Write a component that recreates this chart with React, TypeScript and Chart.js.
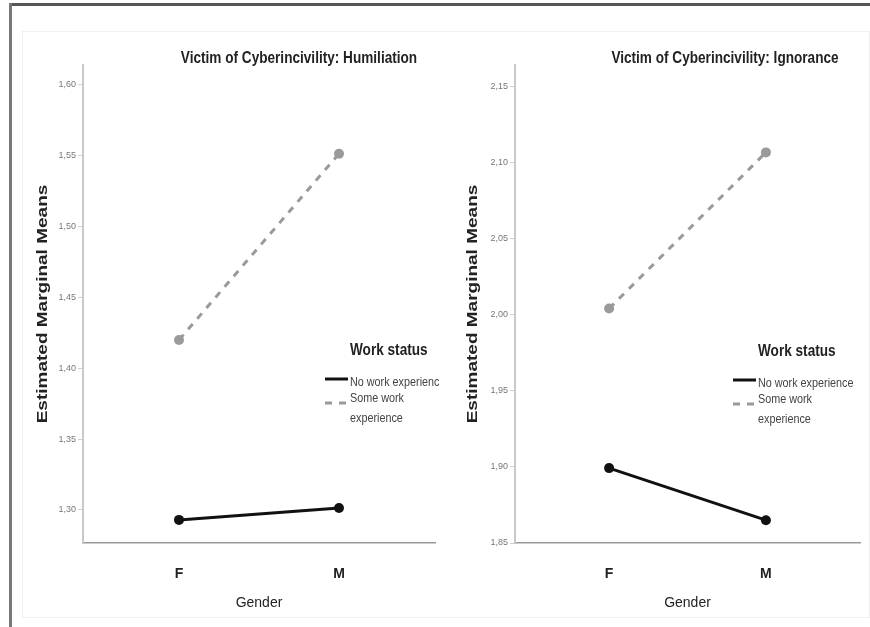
import React, { useEffect, useRef } from 'react';
import { Chart, registerables } from 'chart.js';

Chart.register(...registerables);

// ---------- data ----------
const genderCategories = ['F', 'M'];
const workStatusSeries = ['No work experience', 'Some work experience'];
const workStatusLegendLines = [['No work experience'], ['Some work', 'experience']];

const humiliationNoWork = [1.293, 1.3014];
const humiliationSomeWork = [1.42, 1.5514];
const humiliationTicks = [1.3, 1.35, 1.4, 1.45, 1.5, 1.55, 1.6];
const humiliationRange = [1.2767, 1.614];

const ignoranceNoWork = [1.8992, 1.865];
const ignoranceSomeWork = [2.004, 2.1066];
const ignoranceTicks = [1.85, 1.9, 1.95, 2.0, 2.05, 2.1, 2.15];
const ignoranceRange = [1.85, 2.164];

const FONT = '"Liberation Sans", Arial, sans-serif';

function drawSqueezed(
  ctx: CanvasRenderingContext2D,
  text: string,
  x: number,
  y: number,
  font: string,
  align: CanvasTextAlign,
  squeeze: number,
  color: string
) {
  ctx.save();
  ctx.font = font;
  ctx.fillStyle = color;
  ctx.textBaseline = 'middle';
  ctx.textAlign = align;
  ctx.translate(x, y);
  ctx.scale(squeeze, 1);
  ctx.fillText(text, 0, 0);
  ctx.restore();
}

const panelDecor = {
  id: 'panelDecor',
  afterDraw(chart: any, _args: any, opts: any) {
    const ctx: CanvasRenderingContext2D = chart.ctx;
    const area = chart.chartArea;
    // chart title
    drawSqueezed(ctx, opts.title, opts.titleX, opts.titleY, `bold 16px ${FONT}`, 'center', 0.85, '#222');
    // y axis title (rotated)
    ctx.save();
    ctx.font = `bold 19px ${FONT}`;
    ctx.fillStyle = '#222';
    ctx.textAlign = 'center';
    ctx.textBaseline = 'middle';
    ctx.translate(opts.yTitleX, (area.top + area.bottom) / 2);
    ctx.scale(0.78, 1);
    ctx.rotate(-Math.PI / 2);
    ctx.fillText('Estimated Marginal Means', 0, 0);
    ctx.restore();
    // legend
    const lx = opts.legendX;
    const ly = opts.legendY;
    drawSqueezed(ctx, 'Work status', lx, ly, `bold 16px ${FONT}`, 'left', 0.85, '#222');
    const sampleY = [ly + 28, ly + 52];
    const textY = [[ly + 31], [ly + 47, ly + 67]];
    chart.data.datasets.forEach((ds: any, i: number) => {
      ctx.save();
      ctx.strokeStyle = ds.borderColor;
      ctx.lineWidth = ds.borderWidth;
      ctx.setLineDash(ds.borderDash || []);
      ctx.beginPath();
      ctx.moveTo(lx - 25, sampleY[i]);
      ctx.lineTo(lx - 2, sampleY[i]);
      ctx.stroke();
      ctx.restore();
      workStatusLegendLines[i].forEach((line, j) => {
        drawSqueezed(ctx, line, lx, textY[i][j], `13.5px ${FONT}`, 'left', 0.8, '#444');
      });
    });
  },
};

function makeConfig(
  noWork: number[],
  someWork: number[],
  ticks: number[],
  range: number[],
  yWidth: number,
  xHeight: number,
  padRight: number,
  decor: any
): any {
  return {
    type: 'line',
    data: {
      datasets: [
        {
          label: workStatusSeries[0],
          data: noWork.map((y, i) => ({ x: i, y })),
          borderColor: '#111',
          backgroundColor: '#111',
          borderWidth: 3,
          pointRadius: 5,
          pointBorderWidth: 0,
          pointBackgroundColor: '#111',
          tension: 0,
        },
        {
          label: workStatusSeries[1],
          data: someWork.map((y, i) => ({ x: i, y })),
          borderColor: '#9a9a9a',
          backgroundColor: '#9a9a9a',
          borderWidth: 3,
          borderDash: [7, 7],
          pointRadius: 5,
          pointBorderWidth: 0,
          pointBackgroundColor: '#9a9a9a',
          tension: 0,
        },
      ],
    },
    options: {
      animation: false,
      responsive: false,
      maintainAspectRatio: false,
      layout: { padding: { top: 65, right: padRight, left: 0, bottom: 0 } },
      plugins: {
        legend: { display: false },
        tooltip: { enabled: false },
        title: { display: false },
        panelDecor: decor,
      },
      scales: {
        x: {
          type: 'linear',
          min: -0.6,
          max: 1.6,
          afterBuildTicks: (scale: any) => {
            scale.ticks = genderCategories.map((_c, i) => ({ value: i }));
          },
          afterFit: (scale: any) => {
            scale.height = xHeight;
          },
          ticks: {
            padding: 15,
            color: '#222',
            font: { family: FONT, size: 14, weight: 'bold' },
            callback: (v: any) => genderCategories[Math.round(Number(v))] ?? '',
          },
          grid: { display: false },
          border: { display: true, color: '#999', width: 1.5 },
          title: {
            display: true,
            text: 'Gender',
            color: '#222',
            font: { family: FONT, size: 14 },
            padding: { top: 0, bottom: 15.6 },
          },
        },
        y: {
          type: 'linear',
          min: range[0],
          max: range[1],
          afterBuildTicks: (scale: any) => {
            scale.ticks = ticks.map((v) => ({ value: v }));
          },
          afterFit: (scale: any) => {
            scale.width = yWidth;
          },
          ticks: {
            padding: 2,
            color: '#777',
            font: { family: FONT, size: 9 },
            callback: (v: any) => Number(v).toFixed(2).replace('.', ','),
          },
          grid: {
            display: true,
            drawOnChartArea: false,
            drawTicks: true,
            tickLength: 5,
            color: '#d0d0d0',
          },
          border: { display: true, color: '#c8c8c8', width: 2 },
        },
      },
    },
    plugins: [panelDecor],
  };
}

function Panel(props: { left: number; width: number; config: any }) {
  const ref = useRef<HTMLCanvasElement | null>(null);
  useEffect(() => {
    if (!ref.current) return;
    const chart = new Chart(ref.current, props.config);
    return () => chart.destroy();
  }, []);
  return (
    <canvas
      ref={ref}
      width={props.width}
      height={627}
      style={{ position: 'absolute', left: props.left, top: 0, width: props.width, height: 627 }}
    />
  );
}

export default function App() {
  const leftConfig = makeConfig(
    humiliationNoWork,
    humiliationSomeWork,
    humiliationTicks,
    humiliationRange,
    83,
    84,
    2,
    {
      title: 'Victim of Cyberincivility: Humiliation',
      titleX: 299,
      titleY: 59,
      yTitleX: 43,
      legendX: 350,
      legendY: 351,
    }
  );
  const rightConfig = makeConfig(
    ignoranceNoWork,
    ignoranceSomeWork,
    ignoranceTicks,
    ignoranceRange,
    75,
    84,
    10,
    {
      title: 'Victim of Cyberincivility: Ignorance',
      titleX: 285,
      titleY: 59,
      yTitleX: 33,
      legendX: 318,
      legendY: 352,
    }
  );
  return (
    <div
      style={{
        position: 'absolute',
        left: 0,
        top: 0,
        width: 870,
        height: 627,
        background: '#fff',
        overflow: 'hidden',
      }}
    >
      <div
        style={{
          position: 'absolute',
          left: 22,
          top: 31,
          width: 848,
          height: 587,
          border: '1px solid #f1f1f1',
          boxSizing: 'border-box',
        }}
      />
      <Panel left={0} width={440} config={leftConfig} />
      <Panel left={440} width={430} config={rightConfig} />
      <div style={{ position: 'absolute', left: 9, top: 3, width: 861, height: 2.5, background: '#555' }} />
      <div style={{ position: 'absolute', left: 9, top: 3, width: 2.5, height: 624, background: '#777' }} />
    </div>
  );
}
